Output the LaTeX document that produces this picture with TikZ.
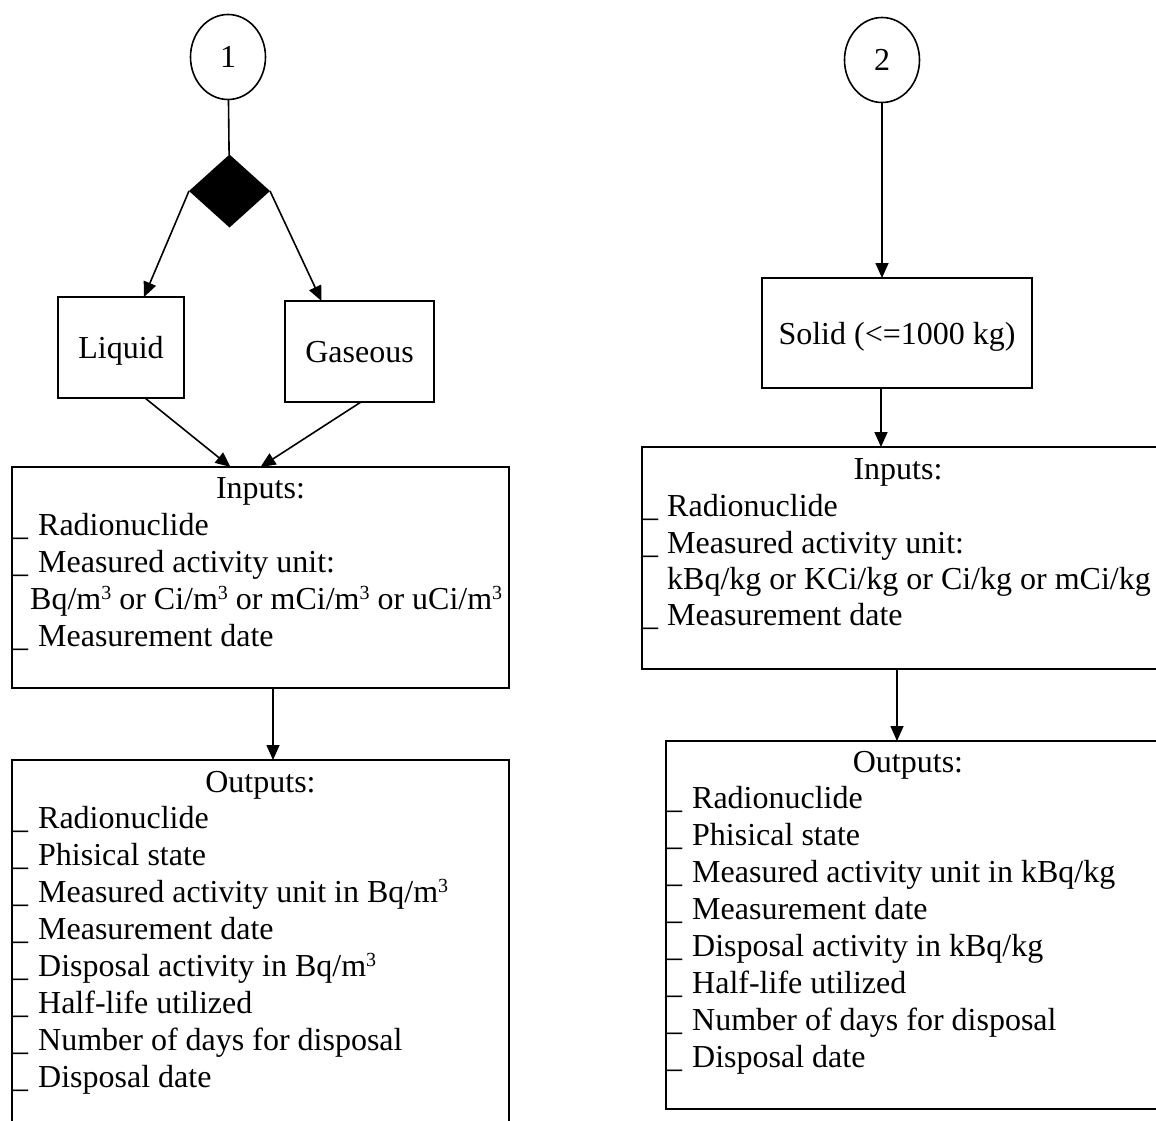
\documentclass[tikz,border=0pt]{standalone}
\usepackage{fontspec}
\setmainfont{Liberation Serif}
\usetikzlibrary{shapes.geometric,arrows.meta,calc}
\newcommand\tk[1]{\makebox[#1][l]{\_}}
\newcommand\cubed{\raisebox{10pt}{\fontsize{20}{20}\selectfont 3}}
\begin{document}
\begin{tikzpicture}[x=1pt,y=-1pt,
  every node/.style={font=\fontsize{32}{37}\selectfont},
  box/.style={draw, line width=1.8pt, rectangle, inner sep=0, outer sep=0, anchor=north west},
  ctext/.style={text height=22pt, text depth=0pt},
  conn/.style={line width=1.6pt},
  arr/.style={conn, -{Triangle[length=15pt,width=13pt]}},
  lbl/.style={anchor=base west, inner sep=0},
  ttl/.style={anchor=base, inner sep=0}]
\useasboundingbox (0,0) rectangle (1156,1121);
\clip (0,0) rectangle (1156,1121);

% ---- left branch ----
\node[draw, ellipse, ctext, line width=1.6pt, minimum width=75, minimum height=85, inner sep=0, outer sep=0] (c1) at (228,57) {1};
\node[diamond, fill=black, minimum width=81, minimum height=73, inner sep=0, outer sep=0] (dec) at (229.5,191) {};
\node[box, ctext, minimum width=126, minimum height=101] (liq) at (58,297) {Liquid};
\node[box, ctext, minimum width=149, minimum height=101] (gas) at (285,301) {Gaseous};
\node[box, minimum width=497, minimum height=221] (inL) at (12,467) {};
\node[box, minimum width=497, minimum height=400] (outL) at (12,760) {};

\draw[conn] (c1) -- (dec);
\draw[arr] (dec.west) -- ($(liq.north)+(23,0)$);
\draw[arr] (dec.east) -- ($(gas.north)+(-38,0)$);
\draw[arr] ($(liq.south)+(24,0)$) -- ($(inL.north)+(-30,0)$);
\draw[arr] ($(gas.south)+(1.5,0)$) -- (inL.north);
\draw[arr] ($(inL.south)+(12.5,0)$) -- ($(outL.north)+(12.5,0)$);

\node[ttl] (inLt) at (260.5,498) {Inputs:};
\node[lbl] (inL1) at (12,535) {\tk{26pt}Radionuclide};
\node[lbl] (inL2) at (12,572) {\tk{26pt}Measured activity unit:};
\node[lbl] (inL3) at (30,609) {Bq/m\cubed{} or Ci/m\cubed{} or mCi/m\cubed{} or uCi/m\cubed};
\node[lbl] (inL4) at (12,646) {\tk{26pt}Measurement date};

\node[ttl] (outLt) at (260.5,792) {Outputs:};
\node[lbl] (outL1) at (12,828) {\tk{26pt}Radionuclide};
\node[lbl] (outL2) at (12,865) {\tk{26pt}Phisical state};
\node[lbl] (outL3) at (12,902) {\tk{26pt}Measured activity unit in Bq/m\cubed};
\node[lbl] (outL4) at (12,939) {\tk{26pt}Measurement date};
\node[lbl] (outL5) at (12,976) {\tk{26pt}Disposal activity in Bq/m\cubed};
\node[lbl] (outL6) at (12,1013) {\tk{26pt}Half-life utilized};
\node[lbl] (outL7) at (12,1050) {\tk{26pt}Number of days for disposal};
\node[lbl] (outL8) at (12,1087) {\tk{26pt}Disposal date};

% ---- right branch ----
\node[draw, ellipse, ctext, line width=1.6pt, minimum width=75, minimum height=85, inner sep=0, outer sep=0] (c2) at (882,60) {2};
\node[box, ctext, minimum width=270, minimum height=110] (sol) at (762,278) {Solid (<=1000 kg)};
\node[box, minimum width=530, minimum height=222] (inR) at (642,447) {};
\node[box, minimum width=510, minimum height=368] (outR) at (666,741) {};

\draw[arr] (c2) -- (c2 |- sol.north);
\draw[arr] ([xshift=-16pt]sol.south) -- ([xshift=-26pt]inR.north);
\draw[arr] ([xshift=-10pt]inR.south) -- ([xshift=-24pt]outR.north);

\node[ttl] (inRt) at (898,479) {Inputs:};
\node[lbl] (inR1) at (642,516) {\tk{25pt}Radionuclide};
\node[lbl] (inR2) at (642,553) {\tk{25pt}Measured activity unit:};
\node[lbl] (inR3) at (667,589) {kBq/kg or KCi/kg or Ci/kg or mCi/kg};
\node[lbl] (inR4) at (642,625) {\tk{25pt}Measurement date};

\node[ttl] (outRt) at (908,772) {Outputs:};
\node[lbl] (outR1) at (666,808) {\tk{26pt}Radionuclide};
\node[lbl] (outR2) at (666,845) {\tk{26pt}Phisical state};
\node[lbl] (outR3) at (666,882) {\tk{26pt}Measured activity unit in kBq/kg};
\node[lbl] (outR4) at (666,919) {\tk{26pt}Measurement date};
\node[lbl] (outR5) at (666,956) {\tk{26pt}Disposal activity in kBq/kg};
\node[lbl] (outR6) at (666,993) {\tk{26pt}Half-life utilized};
\node[lbl] (outR7) at (666,1030) {\tk{26pt}Number of days for disposal};
\node[lbl] (outR8) at (666,1067) {\tk{26pt}Disposal date};
\end{tikzpicture}
\end{document}
